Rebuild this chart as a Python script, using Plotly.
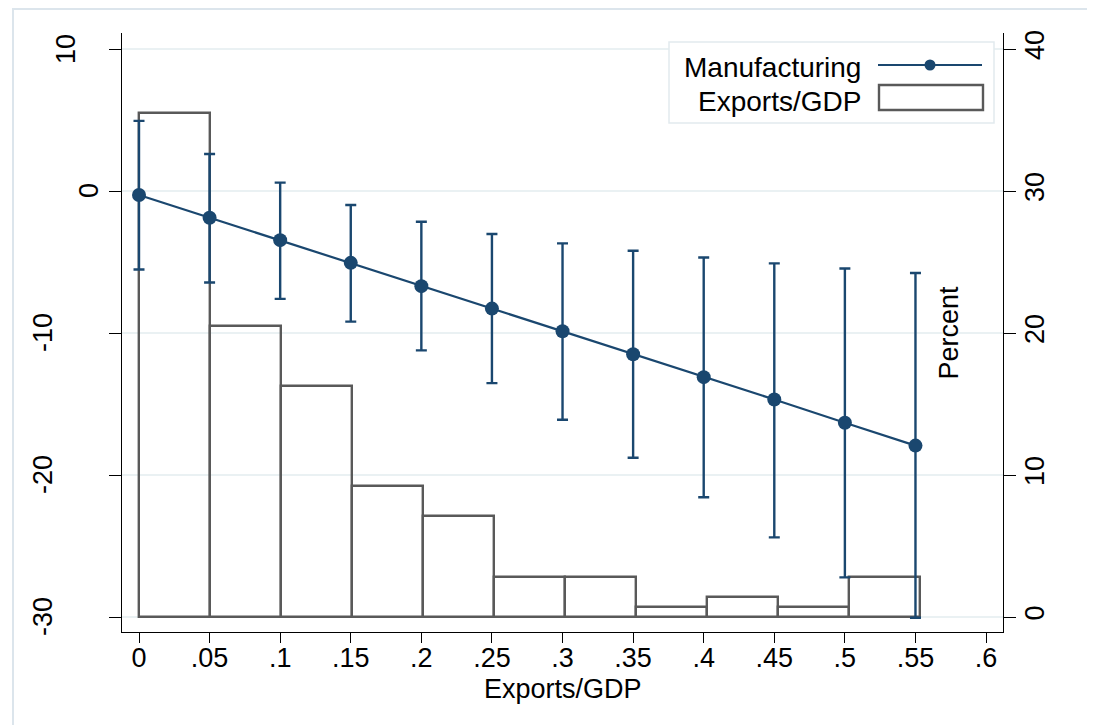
import plotly.graph_objects as go

# ---------------- data ----------------
x_points = [0.00, 0.05, 0.10, 0.15, 0.20, 0.25, 0.30, 0.35, 0.40, 0.45, 0.50, 0.55]
mfg_effect = [-0.28, -1.88, -3.46, -5.06, -6.70, -8.28, -9.88, -11.50, -13.11, -14.68, -16.32, -17.93]
mfg_upper = [4.94, 2.61, 0.59, -0.99, -2.17, -3.03, -3.69, -4.21, -4.68, -5.10, -5.46, -5.77]
mfg_lower = [-5.53, -6.44, -7.60, -9.20, -11.22, -13.53, -16.11, -18.79, -21.57, -24.39, -27.21, -30.05]

hist_start = 0.0
hist_bin_width = 0.0503
hist_percent = [35.5, 20.5, 16.3, 9.2, 7.1, 2.8, 2.8, 0.7, 1.4, 0.7, 2.8]

x_tickvals = [0, 0.05, 0.1, 0.15, 0.2, 0.25, 0.3, 0.35, 0.4, 0.45, 0.5, 0.55, 0.6]
x_ticktext = ["0", ".05", ".1", ".15", ".2", ".25", ".3", ".35", ".4", ".45", ".5", ".55", ".6"]
left_tickvals = [-30, -20, -10, 0, 10]
right_tickvals = [0, 10, 20, 30, 40]

series_names = ["Manufacturing", "Exports/GDP"]
x_title = "Exports/GDP"
right_title = "Percent"

# ---------------- styling ----------------
NAVY = "#1a476f"
GRAY = "#595959"
GRID = "#eaf1f3"
FONT = "Liberation Sans, Arial, Helvetica, sans-serif"

W, H = 1095, 725
OFF = 8  # page body margin
L, R, T, B = 122, 1003, 33, 632  # plot area in page pixels
pw, ph = R - L, B - T


def px_x(p):
    return (p - L) / pw


def px_y(p):
    return (B - p) / ph


bin_centers = [hist_start + (i + 0.5) * hist_bin_width for i in range(len(hist_percent))]

fig = go.Figure()

fig.add_trace(go.Bar(
    x=bin_centers, y=hist_percent, width=hist_bin_width,
    marker=dict(color="rgba(0,0,0,0)", line=dict(color=GRAY, width=2.4)),
    name=series_names[1], yaxis="y", hoverinfo="skip",
))

fig.add_trace(go.Scatter(
    x=x_points, y=mfg_effect, mode="lines+markers", yaxis="y2",
    name=series_names[0],
    line=dict(color=NAVY, width=2.2),
    marker=dict(color=NAVY, size=14),
    error_y=dict(type="data", symmetric=False,
                 array=[u - m for u, m in zip(mfg_upper, mfg_effect)],
                 arrayminus=[m - l for m, l in zip(mfg_effect, mfg_lower)],
                 color=NAVY, thickness=2.4, width=5.5),
))

fig.update_layout(
    width=W, height=H,
    margin=dict(l=L - OFF, r=W - (R - OFF), t=T - OFF, b=H - (B - OFF), pad=0),
    paper_bgcolor="white", plot_bgcolor="white",
    showlegend=False,
    font=dict(family=FONT, size=27, color="black"),
    bargap=0,
    xaxis=dict(range=[-0.01204, 0.6120], tickvals=x_tickvals, ticktext=x_ticktext,
               ticks="outside", ticklen=10, tickwidth=1.2, tickcolor="black",
               ticklabelstandoff=-9,
               showline=True, linecolor="black", linewidth=1.2,
               showgrid=False, zeroline=False, tickfont=dict(size=27)),
    yaxis=dict(range=[-1.056, 41.127], side="right", tickvals=right_tickvals,
               tickangle=-90, ticks="outside", ticklen=12, tickwidth=1.2, tickcolor="black",
               ticklabelstandoff=-5,
               showline=True, linecolor="black", linewidth=1.2,
               showgrid=True, gridcolor=GRID, gridwidth=1.6, zeroline=False,
               tickfont=dict(size=27)),
    yaxis2=dict(range=[-31.056, 11.127], overlaying="y", side="left", tickvals=left_tickvals,
                showticklabels=False, ticks="outside", ticklen=12, tickwidth=1.2, tickcolor="black",
                showline=True, linecolor="black", linewidth=1.2,
                showgrid=False, zeroline=False),
)

annotations = []
# left tick labels (Stata-style placement, offset by label length)
for v in left_tickvals:
    s = str(v)
    cx = 89 - 23 * (len(s) - 1)
    annotations.append(dict(text=s, xref="paper", yref="y2", x=px_x(cx), y=v,
                            textangle=-90, xanchor="center", yanchor="middle",
                            showarrow=False, font=dict(size=27)))
# axis titles
annotations.append(dict(text=x_title, xref="paper", yref="paper", x=0.5, y=px_y(689),
                        xanchor="center", yanchor="middle", showarrow=False, font=dict(size=27)))
annotations.append(dict(text=right_title, xref="paper", yref="paper", x=px_x(948), y=0.5,
                        textangle=-90, xanchor="center", yanchor="middle", showarrow=False,
                        font=dict(size=27)))
# legend labels
annotations.append(dict(text=series_names[0], xref="paper", yref="paper", x=px_x(863), y=px_y(67),
                        xanchor="right", yanchor="middle", showarrow=False, font=dict(size=28)))
annotations.append(dict(text=series_names[1], xref="paper", yref="paper", x=px_x(863), y=px_y(101),
                        xanchor="right", yanchor="middle", showarrow=False, font=dict(size=28)))

shapes = [
    # outer graph-region border
    dict(type="rect", xref="paper", yref="paper", x0=px_x(13), x1=px_x(1110),
         y0=px_y(745), y1=px_y(9), line=dict(color="#dce5ec", width=2), layer="below"),
    # legend box
    dict(type="rect", xref="paper", yref="paper", x0=px_x(669), x1=px_x(994),
         y0=px_y(123), y1=px_y(42), fillcolor="white",
         line=dict(color="#e2eaee", width=1.5), layer="above"),
    # legend key: line + marker
    dict(type="line", xref="paper", yref="paper", x0=px_x(878), x1=px_x(982),
         y0=px_y(65), y1=px_y(65), line=dict(color=NAVY, width=2.2), layer="above"),
    dict(type="circle", xref="paper", yref="paper", xsizemode="pixel", ysizemode="pixel",
         xanchor=px_x(930), yanchor=px_y(65), x0=-5.5, x1=5.5, y0=-5.5, y1=5.5,
         fillcolor=NAVY, line=dict(color=NAVY, width=0), layer="above"),
    # legend key: histogram box
    dict(type="rect", xref="paper", yref="paper", x0=px_x(879), x1=px_x(983),
         y0=px_y(110), y1=px_y(85), fillcolor="white",
         line=dict(color=GRAY, width=2.4), layer="above"),
]

fig.update_layout(annotations=annotations, shapes=shapes)

fig.write_html("out.html")
